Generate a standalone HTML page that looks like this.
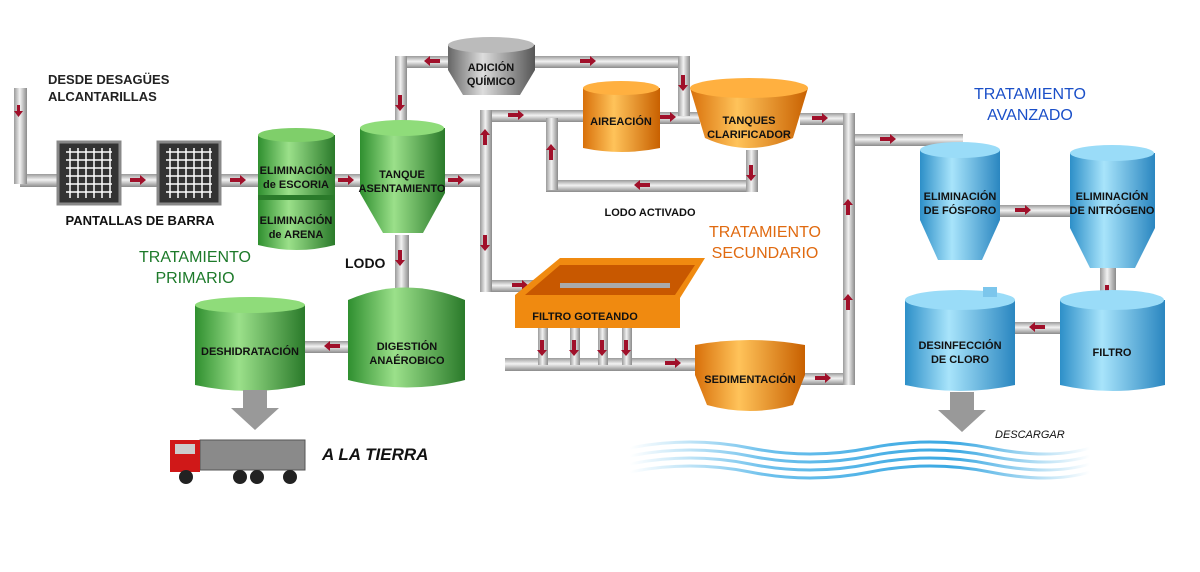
<!DOCTYPE html>
<html><head><meta charset="utf-8">
<style>
html,body{margin:0;padding:0;background:#fff;}
svg{display:block;font-family:"Liberation Sans",sans-serif;}
.t{font-size:11px;font-weight:bold;fill:#111;text-anchor:middle;}
</style></head><body>
<svg width="1200" height="572" viewBox="0 0 1200 572" xmlns="http://www.w3.org/2000/svg">
<defs>
<linearGradient id="pv" x1="0" x2="1" y1="0" y2="0"><stop offset="0" stop-color="#9a9a9a"/><stop offset=".45" stop-color="#f2f2f2"/><stop offset="1" stop-color="#8a8a8a"/></linearGradient>
<linearGradient id="ph" x1="0" x2="0" y1="0" y2="1"><stop offset="0" stop-color="#9a9a9a"/><stop offset=".45" stop-color="#f2f2f2"/><stop offset="1" stop-color="#8a8a8a"/></linearGradient>
<linearGradient id="gr" x1="0" x2="1"><stop offset="0" stop-color="#2f8f2f"/><stop offset=".4" stop-color="#9be08a"/><stop offset="1" stop-color="#2a7a2a"/></linearGradient>
<linearGradient id="or" x1="0" x2="1"><stop offset="0" stop-color="#d8700a"/><stop offset=".4" stop-color="#ffc35a"/><stop offset="1" stop-color="#c86000"/></linearGradient>
<linearGradient id="bl" x1="0" x2="1"><stop offset="0" stop-color="#2d8fc8"/><stop offset=".4" stop-color="#a8e4fb"/><stop offset="1" stop-color="#2a86c0"/></linearGradient>
<linearGradient id="gy" x1="0" x2="1"><stop offset="0" stop-color="#666"/><stop offset=".4" stop-color="#ddd"/><stop offset="1" stop-color="#555"/></linearGradient>
<linearGradient id="wv" x1="0" x2="1"><stop offset="0" stop-color="#fff"/><stop offset=".3" stop-color="#6cc0ec"/><stop offset=".7" stop-color="#3aa8e2"/><stop offset="1" stop-color="#fff"/></linearGradient>
</defs>

<g fill="url(#ph)">
<rect x="20" y="174" width="470" height="13"/>
<rect x="395" y="56" width="295" height="12"/>
<rect x="480" y="110" width="110" height="12"/>
<rect x="655" y="112" width="45" height="12"/>
<rect x="800" y="113" width="50" height="12"/>
<rect x="848" y="134" width="115" height="12"/>
<rect x="546" y="180" width="212" height="12"/>
<rect x="480" y="280" width="60" height="12"/>
<rect x="505" y="358" width="200" height="13"/>
<rect x="800" y="373" width="55" height="12"/>
<rect x="990" y="205" width="90" height="12"/>
<rect x="1015" y="322" width="50" height="12"/>
<rect x="300" y="341" width="55" height="12"/>
</g>
<g fill="url(#pv)">
<rect x="14" y="88" width="13" height="96"/>
<rect x="395" y="56" width="12" height="80"/>
<rect x="678" y="56" width="12" height="60"/>
<rect x="480" y="110" width="12" height="182"/>
<rect x="546" y="118" width="12" height="72"/>
<rect x="746" y="150" width="12" height="42"/>
<rect x="843" y="113" width="12" height="272"/>
<rect x="395" y="235" width="14" height="60"/>
<rect x="1100" y="265" width="16" height="40"/>
<rect x="538" y="325" width="10" height="40"/>
<rect x="570" y="325" width="10" height="40"/>
<rect x="598" y="325" width="10" height="40"/>
<rect x="622" y="325" width="10" height="40"/>
</g>
<g fill="#a0102a">
<path d="M17 105 l3 0 0 6 3 0 -4.5 6 -4.5 -6 3 0z"/>
<path d="M130 178 h10 v-3 l6 5 -6 5 v-3 h-10z"/>
<path d="M230 178 h10 v-3 l6 5 -6 5 v-3 h-10z"/>
<path d="M338 178 h10 v-3 l6 5 -6 5 v-3 h-10z"/>
<path d="M448 178 h10 v-3 l6 5 -6 5 v-3 h-10z"/>
<path d="M440 59 h-10 v-3 l-6 5 6 5 v-3 h10z"/>
<path d="M580 59 h10 v-3 l6 5 -6 5 v-3 h-10z"/>
<path d="M398 95 v10 h-3 l5 6 5 -6 h-3 v-10z"/>
<path d="M681 75 v10 h-3 l5 6 5 -6 h-3 v-10z"/>
<path d="M483 145 v-10 h-3 l5 -6 5 6 h-3 v10z"/>
<path d="M483 235 v10 h-3 l5 6 5 -6 h-3 v-10z"/>
<path d="M508 113 h10 v-3 l6 5 -6 5 v-3 h-10z"/>
<path d="M660 115 h10 v-3 l6 5 -6 5 v-3 h-10z"/>
<path d="M812 116 h10 v-3 l6 5 -6 5 v-3 h-10z"/>
<path d="M880 137 h10 v-3 l6 5 -6 5 v-3 h-10z"/>
<path d="M549 160 v-10 h-3 l5 -6 5 6 h-3 v10z"/>
<path d="M749 165 v10 h-3 l5 6 5 -6 h-3 v-10z"/>
<path d="M650 183 h-10 v-3 l-6 5 6 5 v-3 h10z"/>
<path d="M512 283 h10 v-3 l6 5 -6 5 v-3 h-10z"/>
<path d="M398 250 v10 h-3 l5 6 5 -6 h-3 v-10z"/>
<path d="M846 215 v-10 h-3 l5 -6 5 6 h-3 v10z"/>
<path d="M846 310 v-10 h-3 l5 -6 5 6 h-3 v10z"/>
<path d="M815 376 h10 v-3 l6 5 -6 5 v-3 h-10z"/>
<path d="M665 361 h10 v-3 l6 5 -6 5 v-3 h-10z"/>
<path d="M1015 208 h10 v-3 l6 5 -6 5 v-3 h-10z"/>
<path d="M1045 325 h-10 v-3 l-6 5 6 5 v-3 h10z"/>
<path d="M1105 285 v10 h-3 l5 6 5 -6 h-3 v-10z"/>
<path d="M540 340 v10 h-3 l5 6 5 -6 h-3 v-10z"/>
<path d="M572 340 v10 h-3 l5 6 5 -6 h-3 v-10z"/>
<path d="M600 340 v10 h-3 l5 6 5 -6 h-3 v-10z"/>
<path d="M624 340 v10 h-3 l5 6 5 -6 h-3 v-10z"/>
<path d="M340 344 h-10 v-3 l-6 5 6 5 v-3 h10z"/>
</g>

<g>
<rect x="58" y="142" width="62" height="62" fill="#333" stroke="#888" stroke-width="3"/>
<rect x="158" y="142" width="62" height="62" fill="#333" stroke="#888" stroke-width="3"/>
<g stroke="#fff" stroke-width="1.5">
<path d="M66 152h46M66 160h46M66 168h46M66 176h46M66 184h46M66 192h46M70 148v50M78 148v50M86 148v50M94 148v50M102 148v50M110 148v50"/>
<path d="M166 152h46M166 160h46M166 168h46M166 176h46M166 184h46M166 192h46M170 148v50M178 148v50M186 148v50M194 148v50M202 148v50M210 148v50"/>
</g></g>

<path d="M258 135 h77 v110 q-38 10 -77 0z" fill="url(#gr)"/>
<ellipse cx="296" cy="135" rx="38" ry="7" fill="#7fcf6a"/>
<rect x="258" y="195" width="77" height="5" fill="#2a7a2a"/>
<path d="M360 128 h85 v65 l-22 40 h-40 l-23 -40z" fill="url(#gr)"/>
<ellipse cx="402" cy="128" rx="42" ry="8" fill="#8fdc7a"/>
<path d="M348 300 q57 -25 117 0 v80 q-58 15 -117 0z" fill="url(#gr)"/>
<path d="M195 305 h110 v80 q-55 12 -110 0z" fill="url(#gr)"/>
<ellipse cx="250" cy="305" rx="55" ry="8" fill="#8fdc7a"/>
<path d="M243 390 h24 v18 h12 l-24 22 -24 -22 h12z" fill="#999"/>

<rect x="200" y="440" width="105" height="30" fill="#8a8a8a" stroke="#555"/>
<rect x="170" y="440" width="30" height="32" fill="#d01818"/>
<rect x="175" y="444" width="20" height="10" fill="#ccc"/>
<g fill="#222"><circle cx="186" cy="477" r="7"/><circle cx="240" cy="477" r="7"/><circle cx="257" cy="477" r="7"/><circle cx="290" cy="477" r="7"/></g>

<path d="M448 45 q42 -15 87 0 v25 l-15 25 h-57 l-15 -25z" fill="url(#gy)"/>
<ellipse cx="491" cy="45" rx="43" ry="8" fill="#bbb"/>

<path d="M583 88 h77 v60 q-38 8 -77 0z" fill="url(#or)"/>
<ellipse cx="621" cy="88" rx="38" ry="7" fill="#ffb040"/>
<path d="M690 88 h118 l-15 50 q-44 20 -88 0z" fill="url(#or)"/>
<ellipse cx="749" cy="88" rx="59" ry="10" fill="#ffb040"/>
<path d="M515 295 l45 -37 h145 l-25 40 v30 h-165z" fill="#f08a10"/>
<path d="M560 265 h135 l-20 30 h-150z" fill="#c85800"/>
<rect x="560" y="283" width="110" height="5" fill="#aaa"/>
<path d="M695 345 q55 -10 110 0 v30 l-12 30 q-43 12 -86 0 l-12 -30z" fill="url(#or)"/>

<path d="M920 150 h80 v70 l-18 40 h-44 l-18 -40z" fill="url(#bl)"/>
<ellipse cx="960" cy="150" rx="40" ry="8" fill="#9adcf8"/>
<path d="M1070 153 h85 v75 l-20 40 h-45 l-20 -40z" fill="url(#bl)"/>
<ellipse cx="1112" cy="153" rx="42" ry="8" fill="#9adcf8"/>
<path d="M1060 300 h105 v85 q-52 12 -105 0z" fill="url(#bl)"/>
<ellipse cx="1112" cy="300" rx="52" ry="10" fill="#9adcf8"/>
<path d="M905 300 h110 v85 q-55 12 -110 0z" fill="url(#bl)"/>
<ellipse cx="960" cy="300" rx="55" ry="10" fill="#9adcf8"/>
<rect x="983" y="287" width="14" height="10" fill="#7cc6ec"/>
<path d="M950 392 h24 v18 h12 l-24 22 -24 -22 h12z" fill="#999"/>

<g fill="none" stroke="url(#wv)" stroke-width="3">
<path d="M630 448 q60 -12 120 0 t120 0 t120 0 t100 0"/>
<path d="M630 456 q60 -12 120 0 t120 0 t120 0 t100 0"/>
<path d="M630 464 q60 -12 120 0 t120 0 t120 0 t100 0"/>
<path d="M630 472 q60 -12 120 0 t120 0 t120 0 t100 0"/>
</g>

<text x="48" y="84" font-size="13" font-weight="bold" fill="#222">DESDE DESAGÜES</text>
<text x="48" y="101" font-size="13" font-weight="bold" fill="#222">ALCANTARILLAS</text>
<text x="140" y="225" font-size="13" font-weight="bold" fill="#111" text-anchor="middle">PANTALLAS DE BARRA</text>
<text x="195" y="262" font-size="16" fill="#1d7a2a" text-anchor="middle">TRATAMIENTO</text>
<text x="195" y="283" font-size="16" fill="#1d7a2a" text-anchor="middle">PRIMARIO</text>
<text class="t" x="296" y="174">ELIMINACIÓN</text>
<text class="t" x="296" y="188">de ESCORIA</text>
<text class="t" x="296" y="224">ELIMINACIÓN</text>
<text class="t" x="296" y="238">de ARENA</text>
<text class="t" x="402" y="178">TANQUE</text>
<text class="t" x="402" y="192">ASENTAMIENTO</text>
<text x="345" y="268" font-size="14" font-weight="bold" fill="#111">LODO</text>
<text class="t" x="407" y="350">DIGESTIÓN</text>
<text class="t" x="407" y="364">ANAÉROBICO</text>
<text class="t" x="250" y="355">DESHIDRATACIÓN</text>
<text x="322" y="460" font-size="17" font-weight="bold" font-style="italic" fill="#111">A LA TIERRA</text>
<text class="t" x="491" y="71">ADICIÓN</text>
<text class="t" x="491" y="85">QUÍMICO</text>
<text class="t" x="621" y="125">AIREACIÓN</text>
<text class="t" x="749" y="124">TANQUES</text>
<text class="t" x="749" y="138">CLARIFICADOR</text>
<text class="t" x="650" y="216" font-weight="normal">LODO ACTIVADO</text>
<text x="765" y="237" font-size="16" fill="#e06a10" text-anchor="middle">TRATAMIENTO</text>
<text x="765" y="258" font-size="16" fill="#e06a10" text-anchor="middle">SECUNDARIO</text>
<text class="t" x="585" y="320">FILTRO GOTEANDO</text>
<text class="t" x="750" y="383">SEDIMENTACIÓN</text>
<text x="1030" y="99" font-size="16" fill="#1a4fc8" text-anchor="middle">TRATAMIENTO</text>
<text x="1030" y="120" font-size="16" fill="#1a4fc8" text-anchor="middle">AVANZADO</text>
<text class="t" x="960" y="200">ELIMINACIÓN</text>
<text class="t" x="960" y="214">DE FÓSFORO</text>
<text class="t" x="1112" y="200">ELIMINACIÓN</text>
<text class="t" x="1112" y="214">DE NITRÓGENO</text>
<text class="t" x="1112" y="356">FILTRO</text>
<text class="t" x="960" y="349">DESINFECCIÓN</text>
<text class="t" x="960" y="363">DE CLORO</text>
<text x="995" y="438" font-size="11" font-style="italic" fill="#111">DESCARGAR</text>
</svg>
</body></html>
